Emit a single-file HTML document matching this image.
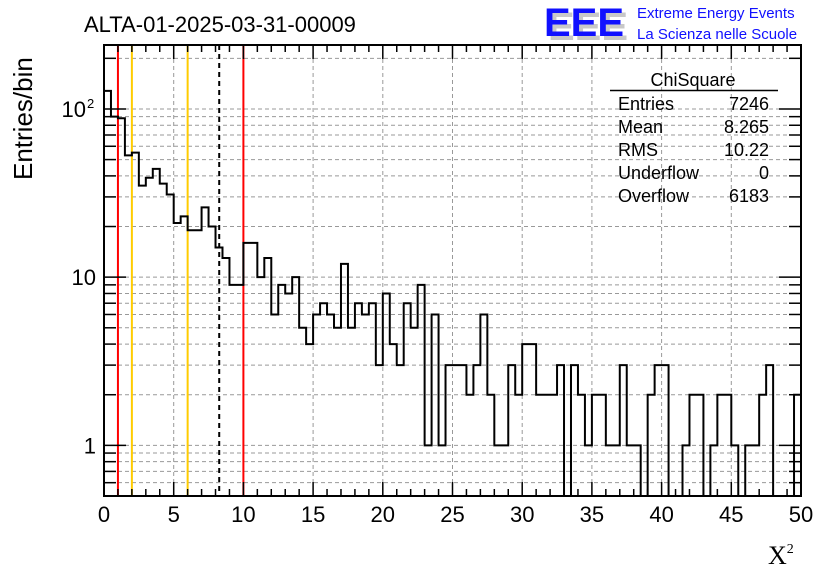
<!DOCTYPE html>
<html><head><meta charset="utf-8"><style>
body{margin:0;background:#fff;width:836px;height:572px;overflow:hidden}
svg{font-family:"Liberation Sans",sans-serif}
</style></head><body>
<svg id="c" width="836" height="572">
<text x="84" y="32" font-size="22">ALTA-01-2025-03-31-00009</text>
<g>
<text x="548" y="40" font-size="40" font-weight="bold" fill="#c8c8c8" textLength="80" lengthAdjust="spacingAndGlyphs">EEE</text>
<text x="544" y="36" font-size="40" font-weight="bold" fill="#1010ff" textLength="80" lengthAdjust="spacingAndGlyphs">EEE</text>
<text x="637" y="18" font-size="15" fill="#1010ff">Extreme Energy Events</text>
<text x="637" y="39" font-size="15" fill="#1010ff">La Scienza nelle Scuole</text>
</g>
<g id="grid"></g><g id="lines"></g><g id="hist"></g><g id="axes"></g>
<g font-size="18">
<text x="693" y="86" text-anchor="middle">ChiSquare</text>
<line x1="610" y1="90.5" x2="778" y2="90.5" stroke="#000" stroke-width="1.5"/>
<text x="618" y="110">Entries</text><text x="769" y="110" text-anchor="end">7246</text>
<text x="618" y="133">Mean</text><text x="769" y="133" text-anchor="end">8.265</text>
<text x="618" y="156">RMS</text><text x="769" y="156" text-anchor="end">10.22</text>
<text x="618" y="179">Underflow</text><text x="769" y="179" text-anchor="end">0</text>
<text x="618" y="202">Overflow</text><text x="769" y="202" text-anchor="end">6183</text>
</g>
<text transform="translate(32,180) rotate(-90)" font-size="26">Entries/bin</text>
<text x="768" y="564" font-size="26" font-family="Liberation Serif,serif">X<tspan font-size="14" dy="-11">2</tspan></text>
</svg>
<script>
const counts=[128,90,88,53,55,35,39,44,36,31,21,23,19,19,26,20,15,13,9,9,16,16,10,13,6,9,8,10,5,4,6,7,6,5,12,5,7,6,7,3,8,4,3,7,5,9,1,6,1,3,3,3,2,3,6,2,1,1,3,2,4,4,2,2,2,3,0,3,2,1,2,2,1,1,3,1,1,0,2,3,3,0,0,1,2,2,0,1,2,2,1,0,1,1,2,3,0,0,0,2];
const binWidth=0.5;
const xTicks=[0,5,10,15,20,25,30,35,40,45,50];
const yLabels=["1","10","10"];
const markers=[{x:1,c:"#f00",d:""},{x:2,c:"#fc0",d:""},{x:6,c:"#fc0",d:""},{x:8.265,c:"#000",d:"5,4"},{x:10,c:"#f00",d:""}];
const L=104,R=801,T=45,B=496,X0=0,X1=50,YMIN=0.5,YMAX=240;
const sx=v=>L+(v-X0)/(X1-X0)*(R-L);
const sy=v=>B-(Math.log10(Math.max(v,YMIN))-Math.log10(YMIN))/(Math.log10(YMAX)-Math.log10(YMIN))*(B-T);
const NS="http://www.w3.org/2000/svg";
function mk(p,t,a){const e=document.createElementNS(NS,t);for(const k in a)e.setAttribute(k,a[k]);p.appendChild(e);return e;}
const grid=document.getElementById('grid'),lines=document.getElementById('lines'),hist=document.getElementById('hist'),axes=document.getElementById('axes');

for(const t of xTicks){if(t>X0&&t<X1){const g=mk(grid,'line',{x1:sx(t),x2:sx(t),y1:T,y2:B,stroke:'#999','stroke-dasharray':'4,3'});

}}
const yt=[];for(let d=0.1;d<=100;d*=10)for(let m=1;m<10;m++){const v=+(m*d).toPrecision(2);if(v>=YMIN&&v<=YMAX)yt.push(v);}
for(const v of yt){const g=mk(grid,'line',{x1:L,x2:R,y1:sy(v),y2:sy(v),stroke:'#999','stroke-dasharray':'4,3'});

}
for(const m of markers){const l=mk(lines,'line',{x1:sx(m.x),x2:sx(m.x),y1:T,y2:B,stroke:m.c,'stroke-width':2,'stroke-dasharray':m.d});

}
let d='M'+sx(0)+','+B;
counts.forEach((c,i)=>{const y=c>0?sy(c):B;d+=' L'+sx(i*binWidth)+','+y+' L'+sx((i+1)*binWidth)+','+y;});
d+=' L'+sx(counts.length*binWidth)+','+B;
const h=mk(hist,'path',{d:d,fill:'none',stroke:'#000','stroke-width':2});


const fr=mk(axes,'rect',{x:L,y:T,width:R-L,height:B-T,fill:'none',stroke:'#000','stroke-width':2});


for(let v=X0;v<=X1;v+=1){const big=v%5===0,len=big?14:7;
mk(axes,'line',{x1:sx(v),x2:sx(v),y1:B,y2:B-len,stroke:'#000','stroke-width':1.5});
mk(axes,'line',{x1:sx(v),x2:sx(v),y1:T,y2:T+len,stroke:'#000','stroke-width':1.5});}
for(const t of xTicks){const tx=mk(axes,'text',{x:sx(t),y:522,'font-size':22,'text-anchor':'middle'});tx.textContent=t;

}
for(const v of yt){const big=[1,10,100].includes(v),len=big?22:12;
mk(axes,'line',{x1:L,x2:L+len,y1:sy(v),y2:sy(v),stroke:'#000','stroke-width':1.5});
mk(axes,'line',{x1:R,x2:R-len,y1:sy(v),y2:sy(v),stroke:'#000','stroke-width':1.5});}
[1,10,100].forEach((v,i)=>{const tx=mk(axes,'text',{x:i===2?86:96,y:sy(v)+8,'font-size':22,'text-anchor':'end'});tx.textContent=yLabels[i];


if(i===2){const s=mk(axes,'text',{x:87,y:sy(v)-1,'font-size':13});s.textContent='2';

}});
</script>
</body></html>
